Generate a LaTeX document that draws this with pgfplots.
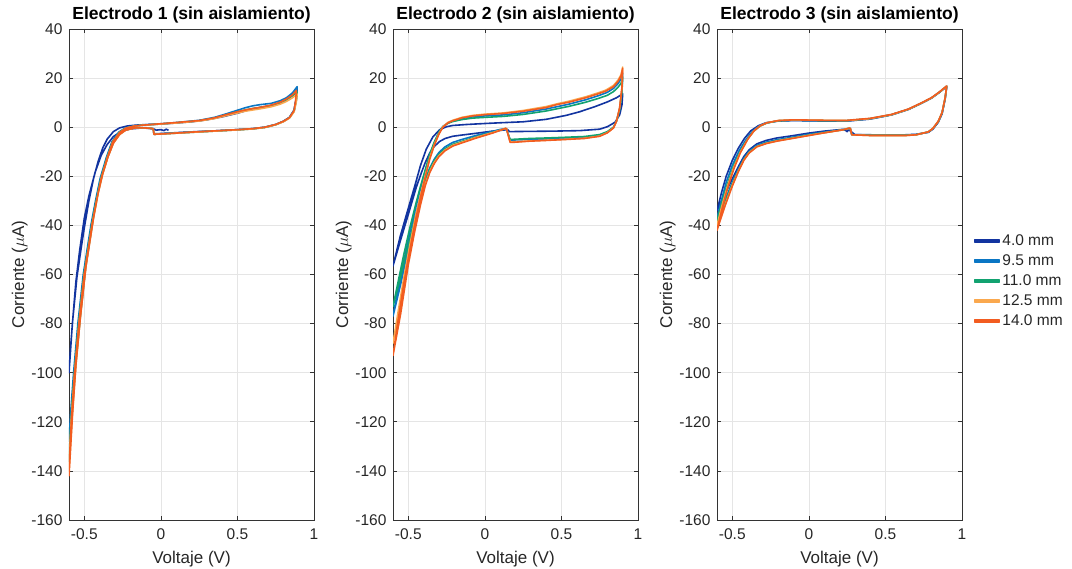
\documentclass[border=0pt]{standalone}
\usepackage{fontspec}
\setmainfont{Liberation Sans}
\usepackage{pgfplots}
\pgfplotsset{compat=1.18}

\definecolor{cA}{RGB}{18,52,160}
\definecolor{cB}{RGB}{10,118,196}
\definecolor{cC}{RGB}{18,162,112}
\definecolor{cD}{RGB}{250,168,78}
\definecolor{cE}{RGB}{242,92,32}

\pgfplotsset{
  cvpanel/.style={
    scale only axis, width=245pt, height=491pt,
    xmin=-0.6, xmax=1, ymin=-160, ymax=40,
    xtick={-0.5,0,0.5,1}, ytick={-160,-140,...,40},
    scaled ticks=false,
    /pgf/number format/assume math mode=true,
    grid=major, grid style={black!10, line width=0.6pt},
    axis line style={black!80, line width=0.6pt},
    tick style={black!80, line width=0.6pt},
    major tick length=4pt,
    ticklabel style={font=\fontsize{15.5}{15.5}\selectfont, text=black!85},
    xticklabel style={yshift=-5pt},
    yticklabel style={xshift=-3pt},
    label style={font=\fontsize{17}{17}\selectfont, text=black!85},
    xlabel style={yshift=-5pt},
    ylabel style={yshift=-3pt},
    title style={font=\bfseries\fontsize{17.5}{18}\selectfont, yshift=-4pt},
    xlabel={Voltaje (V)}, ylabel={Corriente ($\mu$A)},
    every axis plot/.append style={line width=1.6pt, line join=round},
  },
}

\begin{document}
\begin{tikzpicture}
\useasboundingbox (0,0) rectangle (1072pt,569pt);

% ---------- Electrodo 1 ----------
\begin{axis}[cvpanel, at={(69pt,49pt)}, anchor=south west,
  title={Electrodo 1 (sin aislamiento)}]
\addplot[cA] coordinates {
(0.05,-1.3) (0.035,-0.8) (0.02,-1.4) (0.0,-1.0) (-0.03,-1.2) (-0.05,-0.6)
(-0.12,-0.3) (-0.2,-0.7) (-0.26,-1.8) (-0.31,-3.8) (-0.35,-7) (-0.39,-11.5)
(-0.43,-18.5) (-0.47,-28) (-0.5,-37) (-0.53,-50) (-0.555,-63) (-0.575,-78)
(-0.59,-90) (-0.6,-100)
(-0.59,-91) (-0.578,-80) (-0.548,-61) (-0.52,-49) (-0.5,-41) (-0.47,-30)
(-0.44,-21) (-0.41,-14) (-0.38,-8.5) (-0.35,-4.8) (-0.31,-1.8) (-0.27,-0.3)
(-0.22,0.5) (-0.15,0.9) (0,1.3) (0.1,1.7) (0.2,2.2) (0.3,3) (0.4,4.2) (0.5,5.7)
(0.55,6.6) (0.6,7.5) (0.65,8.1) (0.7,8.6) (0.75,9.3) (0.8,10.6) (0.84,12.3)
(0.87,14) (0.89,15.8)
(0.885,12) (0.87,7) (0.84,4) (0.8,2.4) (0.75,1.1) (0.68,0) (0.6,-0.6) (0.5,-1)
(0.35,-1.5) (0.2,-1.9) (0.05,-2.4) (-0.04,-2.7)
};
\addplot[cB] coordinates {
(-0.05,-0.6) (-0.1,-0.2) (-0.17,-0.2) (-0.23,-1) (-0.27,-2.7) (-0.31,-6)
(-0.345,-11.5) (-0.38,-18.5) (-0.41,-26) (-0.44,-36) (-0.49,-56) (-0.525,-76)
(-0.555,-95) (-0.58,-112) (-0.6,-128)
(-0.59,-117) (-0.57,-100) (-0.542,-80) (-0.507,-60) (-0.457,-40) (-0.427,-30)
(-0.397,-21) (-0.357,-12.5) (-0.32,-6) (-0.275,-2) (-0.232,-0.3) (-0.17,0.6)
(-0.12,0.9) (0,1.4) (0.1,1.9) (0.25,2.8) (0.35,4) (0.42,5.3) (0.5,6.9)
(0.55,7.9) (0.6,8.7) (0.65,9.2) (0.72,9.7) (0.78,10.8) (0.82,12) (0.86,14)
(0.89,16.5)
(0.885,12) (0.87,7) (0.84,4) (0.8,2.4) (0.75,1.1) (0.68,0) (0.6,-0.6) (0.5,-1)
(0.35,-1.5) (0.2,-2) (0.05,-2.5) (-0.045,-2.9) (-0.05,-0.6)
};
\addplot[cC] coordinates {
(-0.05,-0.6) (-0.1,-0.3) (-0.17,-0.3) (-0.23,-1.1) (-0.27,-2.9) (-0.31,-6.3)
(-0.345,-11.8) (-0.38,-18.8) (-0.41,-26.5) (-0.44,-36.5) (-0.49,-56.5)
(-0.525,-76.5) (-0.555,-96) (-0.578,-115) (-0.6,-136)
(-0.592,-125) (-0.58,-112) (-0.565,-100) (-0.538,-80) (-0.503,-60) (-0.453,-40)
(-0.423,-30) (-0.393,-21) (-0.353,-12.5) (-0.316,-6) (-0.272,-2.1) (-0.23,-0.4)
(-0.17,0.5) (-0.12,0.8) (0,1.3) (0.1,1.8) (0.25,2.6) (0.35,3.7) (0.42,4.9)
(0.5,6.2) (0.55,7) (0.6,7.6) (0.65,8) (0.72,8.8) (0.78,9.9) (0.82,11.1)
(0.86,12.8) (0.89,14.5)
(0.885,11) (0.87,6.5) (0.84,3.8) (0.8,2.3) (0.75,1) (0.68,-0.1) (0.6,-0.7)
(0.5,-1.1) (0.35,-1.6) (0.2,-2.1) (0.05,-2.6) (-0.045,-2.9) (-0.05,-0.6)
};
\addplot[cD] coordinates {
(-0.05,-0.6) (-0.1,-0.3) (-0.17,-0.3) (-0.23,-1.2) (-0.27,-3) (-0.31,-6.5)
(-0.345,-12) (-0.38,-19) (-0.41,-27) (-0.44,-37) (-0.49,-57) (-0.525,-77)
(-0.555,-97) (-0.578,-117) (-0.6,-140)
(-0.593,-129) (-0.585,-119) (-0.563,-100) (-0.535,-80) (-0.5,-60) (-0.45,-40)
(-0.42,-30) (-0.39,-21) (-0.35,-12.5) (-0.314,-6) (-0.27,-2.2) (-0.228,-0.4)
(-0.17,0.5) (-0.12,0.8) (0,1.3) (0.1,1.7) (0.25,2.5) (0.35,3.5) (0.42,4.6)
(0.5,5.8) (0.55,6.5) (0.6,7) (0.65,7.5) (0.72,8.3) (0.78,9.4) (0.82,10.5)
(0.86,12) (0.89,13.5)
(0.885,10.5) (0.87,6.3) (0.84,3.7) (0.8,2.2) (0.75,1) (0.68,-0.1) (0.6,-0.7)
(0.5,-1.1) (0.35,-1.6) (0.2,-2.1) (0.05,-2.6) (-0.045,-2.9) (-0.05,-0.6)
};
\addplot[cE] coordinates {
(-0.05,-0.6) (-0.1,-0.3) (-0.17,-0.3) (-0.23,-1.2) (-0.27,-3) (-0.31,-6.5)
(-0.345,-12) (-0.38,-19) (-0.41,-27) (-0.44,-37) (-0.49,-57) (-0.525,-77)
(-0.555,-97) (-0.577,-117) (-0.6,-142)
(-0.593,-130) (-0.585,-120) (-0.563,-100) (-0.535,-80) (-0.5,-60) (-0.45,-40)
(-0.42,-30) (-0.39,-21) (-0.35,-12.5) (-0.314,-6) (-0.27,-2.2) (-0.228,-0.4)
(-0.17,0.5) (-0.12,0.8) (0,1.4) (0.1,1.9) (0.25,2.7) (0.35,3.8) (0.42,5)
(0.5,6.3) (0.55,7) (0.6,7.6) (0.65,8.1) (0.72,9) (0.78,10.2) (0.82,11.5)
(0.86,13.2) (0.885,15)
(0.88,11) (0.87,6.8) (0.84,3.9) (0.8,2.4) (0.75,1.1) (0.68,0) (0.6,-0.6)
(0.5,-1) (0.35,-1.5) (0.2,-2) (0.05,-2.6) (-0.045,-2.9) (-0.05,-0.6)
};
\end{axis}

% ---------- Electrodo 2 ----------
\begin{axis}[cvpanel, at={(393pt,49pt)}, anchor=south west,
  title={Electrodo 2 (sin aislamiento)}]
\addplot[cA] coordinates {
(0.15,-1.0) (0.05,-1.6) (-0.06,-2.5) (-0.15,-3.2) (-0.21,-3.7) (-0.26,-4.6)
(-0.295,-5.8) (-0.33,-7.8) (-0.36,-10.5) (-0.39,-14.5) (-0.415,-18.6)
(-0.448,-24.5) (-0.5,-35.5) (-0.553,-46.5) (-0.6,-56.5)
(-0.553,-44.5) (-0.5,-33) (-0.458,-24) (-0.42,-15.5) (-0.383,-9) (-0.34,-4)
(-0.295,-1) (-0.25,0.2) (-0.21,0.7) (-0.12,1.1) (0,1.5) (0.1,1.8) (0.25,2.2)
(0.4,3.2) (0.53,4.8) (0.62,6.3) (0.72,8.4) (0.8,10.3) (0.86,12) (0.9,13.6)
(0.895,9) (0.88,5) (0.85,2) (0.8,0.2) (0.75,-0.8) (0.62,-1.4) (0.45,-1.6)
(0.3,-1.7) (0.16,-1.8) (0.15,-1.0)
};
\addplot[cB] coordinates {
(0.14,-0.5) (0.1,-0.9) (0.05,-1.7) (-0.06,-3.4) (-0.15,-5) (-0.21,-6.2)
(-0.26,-8) (-0.3,-10.3) (-0.33,-13) (-0.36,-16.6) (-0.39,-21.5) (-0.42,-28.5)
(-0.46,-38.5) (-0.5,-49.5) (-0.55,-64) (-0.6,-77)
(-0.57,-67) (-0.53,-54.5) (-0.49,-43) (-0.45,-32.5) (-0.42,-25) (-0.39,-18)
(-0.36,-11.5) (-0.33,-6.3) (-0.3,-2.2) (-0.274,0.3) (-0.24,1.8) (-0.21,2.6)
(-0.15,3.6) (-0.08,4.2) (0,4.6) (0.12,5) (0.25,5.9) (0.4,7.4) (0.55,9.4)
(0.66,11.2) (0.74,12.8) (0.8,14.2) (0.84,15.8) (0.87,17.8) (0.89,19.8) (0.9,22)
(0.895,15) (0.88,7.4) (0.86,2.6) (0.84,-0.1) (0.8,-2) (0.75,-3.3) (0.65,-4.2)
(0.53,-4.5) (0.4,-4.8) (0.29,-5) (0.2,-5.2) (0.165,-5.3) (0.14,-0.5)
};
\addplot[cC] coordinates {
(0.14,-0.6) (0.1,-1.2) (0.05,-2.1) (-0.06,-4) (-0.15,-5.8) (-0.21,-7)
(-0.26,-8.8) (-0.3,-11) (-0.33,-13.6) (-0.36,-17) (-0.39,-22) (-0.42,-28.5)
(-0.46,-38) (-0.5,-48) (-0.55,-61) (-0.6,-73)
(-0.57,-64) (-0.53,-52) (-0.49,-41) (-0.45,-31) (-0.42,-24) (-0.39,-17.5)
(-0.36,-11) (-0.33,-6) (-0.3,-2) (-0.274,0.3) (-0.24,1.6) (-0.21,2.3)
(-0.15,3.1) (-0.08,3.7) (0,4) (0.12,4.4) (0.25,5.2) (0.4,6.6) (0.55,8.5)
(0.66,10.2) (0.74,11.7) (0.8,13) (0.84,14.5) (0.87,16.3) (0.89,18) (0.9,20.5)
(0.895,14) (0.88,7) (0.86,2.5) (0.84,0) (0.8,-1.8) (0.75,-3) (0.65,-3.8)
(0.53,-4.1) (0.4,-4.4) (0.29,-4.6) (0.2,-4.9) (0.165,-5) (0.14,-0.6)
};
\addplot[cD] coordinates {
(0.14,-0.4) (0.1,-1.2) (0.05,-2.2) (-0.06,-4.2) (-0.15,-6.1) (-0.21,-7.4)
(-0.26,-9.3) (-0.3,-11.6) (-0.33,-14.3) (-0.36,-18) (-0.39,-23.3) (-0.42,-30.5)
(-0.46,-41.5) (-0.5,-54) (-0.55,-72) (-0.6,-88)
(-0.57,-76.5) (-0.53,-61.5) (-0.49,-48) (-0.45,-35.5) (-0.42,-27.5)
(-0.39,-19.8) (-0.36,-12.5) (-0.33,-7) (-0.3,-2.6) (-0.274,0.2) (-0.24,2)
(-0.21,2.8) (-0.15,4) (-0.08,4.8) (0,5.3) (0.12,5.8) (0.25,6.8) (0.4,8.4)
(0.47,9.5) (0.55,10.6) (0.66,12.4) (0.74,14) (0.79,15.1) (0.84,17) (0.87,19.2)
(0.89,21.5) (0.9,24.5)
(0.895,16) (0.88,7.9) (0.86,2.5) (0.84,-0.3) (0.8,-2.2) (0.75,-3.6) (0.65,-4.5)
(0.53,-4.9) (0.4,-5.3) (0.29,-5.6) (0.2,-5.9) (0.165,-6) (0.14,-0.4)
};
\addplot[cE] coordinates {
(0.14,-0.4) (0.1,-1.3) (0.05,-2.4) (-0.06,-4.5) (-0.15,-6.4) (-0.21,-7.7)
(-0.26,-9.6) (-0.3,-12) (-0.33,-14.8) (-0.36,-18.5) (-0.39,-24) (-0.42,-31.5)
(-0.46,-43) (-0.5,-56) (-0.55,-76) (-0.6,-93)
(-0.57,-80) (-0.53,-64) (-0.49,-50) (-0.45,-37) (-0.42,-28.5) (-0.39,-20.5)
(-0.36,-13) (-0.33,-7.3) (-0.3,-2.8) (-0.274,0) (-0.24,1.8) (-0.21,2.6)
(-0.15,3.8) (-0.08,4.6) (0,5.1) (0.12,5.6) (0.25,6.5) (0.4,8) (0.47,9.2)
(0.55,10.2) (0.66,12) (0.74,13.6) (0.79,14.7) (0.84,16.5) (0.87,18.7)
(0.89,21) (0.9,24)
(0.895,16) (0.88,7.9) (0.86,2.5) (0.84,-0.3) (0.8,-2.3) (0.75,-3.7) (0.65,-4.6)
(0.53,-5) (0.4,-5.4) (0.29,-5.7) (0.2,-6.1) (0.165,-6.2) (0.14,-0.4)
};
\end{axis}

% ---------- Electrodo 3 ----------
\begin{axis}[cvpanel, at={(717pt,49pt)}, anchor=south west,
  title={Electrodo 3 (sin aislamiento)},
  legend style={draw=none, fill=none, at={(1.035,0.487)}, anchor=west,
    font=\fontsize{15.5}{15.5}\selectfont, text=black!85, row sep=3.6pt},
  legend cell align=left,
  legend image code/.code={\fill[#1] (0pt,-1pt) rectangle (25pt,1pt);}]
\addplot[cA] coordinates {
(0.26,-1.0) (0.25,-1.8) (0.24,-1.3) (0.22,-0.9) (0.1,-1.6) (0,-2.4)
(-0.1,-3.4) (-0.21,-4.4) (-0.28,-5.4) (-0.34,-6.8) (-0.39,-9.2) (-0.425,-12)
(-0.46,-16) (-0.5,-21) (-0.55,-27.5) (-0.6,-34)
(-0.57,-26.5) (-0.54,-20) (-0.5,-13.5) (-0.46,-8.5) (-0.42,-4.5) (-0.38,-1.5)
(-0.33,0.6) (-0.28,1.8) (-0.2,2.5) (-0.1,2.7) (0,2.6) (0.1,2.5) (0.25,2.5)
(0.4,3.3) (0.54,5) (0.65,7.2) (0.735,9.7) (0.8,11.8) (0.845,13.8) (0.9,16.5)
(0.89,11.5) (0.87,5.5) (0.845,2) (0.81,-0.8) (0.78,-2.1) (0.7,-2.9)
(0.63,-3.1) (0.41,-3.1) (0.3,-3) (0.26,-1.0)
};
\addlegendentry{4.0 mm}
\addplot[cB] coordinates {
(0.27,-0.4) (0.22,-1.0) (0.1,-2) (0,-2.9) (-0.1,-4) (-0.21,-5.1) (-0.28,-6.1)
(-0.34,-7.4) (-0.39,-9.8) (-0.425,-12.8) (-0.46,-17) (-0.5,-22.5)
(-0.55,-30) (-0.6,-37)
(-0.57,-29.5) (-0.54,-22.5) (-0.5,-15.5) (-0.455,-9.5) (-0.41,-5)
(-0.37,-1.8) (-0.33,0.3) (-0.28,1.7) (-0.2,2.6) (-0.1,2.8) (0,2.7) (0.1,2.6)
(0.25,2.6) (0.4,3.4) (0.54,5.1) (0.65,7.3) (0.735,9.8) (0.8,11.9)
(0.845,13.9) (0.9,16.6)
(0.89,11.8) (0.87,5.8) (0.845,2.2) (0.81,-0.6) (0.78,-2) (0.7,-3) (0.63,-3.2)
(0.41,-3.2) (0.28,-3) (0.27,-0.4)
};
\addlegendentry{9.5 mm}
\addplot[cC] coordinates {
(0.27,-0.3) (0.22,-1.1) (0.1,-2.2) (0,-3.2) (-0.1,-4.3) (-0.21,-5.5)
(-0.28,-6.5) (-0.34,-7.8) (-0.39,-10.2) (-0.425,-13.2) (-0.46,-17.5)
(-0.5,-23.2) (-0.55,-31) (-0.6,-38)
(-0.57,-31) (-0.534,-23.5) (-0.49,-15.5) (-0.448,-9.8) (-0.4,-4.8)
(-0.36,-1.6) (-0.32,0.4) (-0.274,1.7) (-0.2,2.6) (-0.1,2.9) (0,2.8) (0.1,2.7)
(0.25,2.7) (0.4,3.5) (0.54,5.1) (0.65,7.3) (0.735,9.8) (0.8,11.9)
(0.845,13.9) (0.9,16.7)
(0.89,11.9) (0.87,5.9) (0.845,2.3) (0.81,-0.5) (0.78,-1.9) (0.7,-3.1)
(0.63,-3.3) (0.41,-3.3) (0.28,-3.1) (0.27,-0.3)
};
\addlegendentry{11.0 mm}
\addplot[cD] coordinates {
(0.27,-0.3) (0.22,-1.1) (0.1,-2.3) (0,-3.3) (-0.1,-4.4) (-0.21,-5.6)
(-0.28,-6.6) (-0.34,-7.9) (-0.39,-10.4) (-0.425,-13.4) (-0.46,-17.8)
(-0.5,-23.6) (-0.55,-32) (-0.6,-40)
(-0.57,-32.5) (-0.534,-24.5) (-0.49,-16.3) (-0.448,-10.2) (-0.4,-4.9)
(-0.36,-1.6) (-0.32,0.5) (-0.274,1.8) (-0.2,2.7) (-0.1,3) (0,2.9) (0.1,2.8)
(0.25,2.7) (0.4,3.5) (0.54,5.1) (0.65,7.3) (0.735,9.8) (0.8,11.9)
(0.845,13.9) (0.9,16.7)
(0.89,12) (0.87,6) (0.845,2.4) (0.81,-0.5) (0.78,-1.9) (0.7,-3.1)
(0.63,-3.4) (0.41,-3.4) (0.28,-3.1) (0.27,-0.3)
};
\addlegendentry{12.5 mm}
\addplot[cE] coordinates {
(0.27,-0.3) (0.22,-1.1) (0.1,-2.3) (0,-3.4) (-0.1,-4.5) (-0.21,-5.7)
(-0.28,-6.7) (-0.34,-8) (-0.39,-10.5) (-0.425,-13.5) (-0.46,-18) (-0.5,-24)
(-0.55,-32.5) (-0.6,-42)
(-0.57,-34) (-0.534,-25.5) (-0.49,-17) (-0.448,-10.5) (-0.4,-5) (-0.36,-1.6)
(-0.32,0.5) (-0.274,1.8) (-0.2,2.7) (-0.1,3) (0,2.9) (0.1,2.8) (0.25,2.8)
(0.4,3.6) (0.54,5.2) (0.65,7.4) (0.735,9.9) (0.8,12) (0.845,14) (0.9,16.8)
(0.89,12) (0.87,6) (0.845,2.4) (0.81,-0.5) (0.78,-1.9) (0.7,-3.1) (0.63,-3.4)
(0.41,-3.4) (0.28,-3.1) (0.27,-0.3)
};
\addlegendentry{14.0 mm}
\end{axis}
\end{tikzpicture}
\end{document}
